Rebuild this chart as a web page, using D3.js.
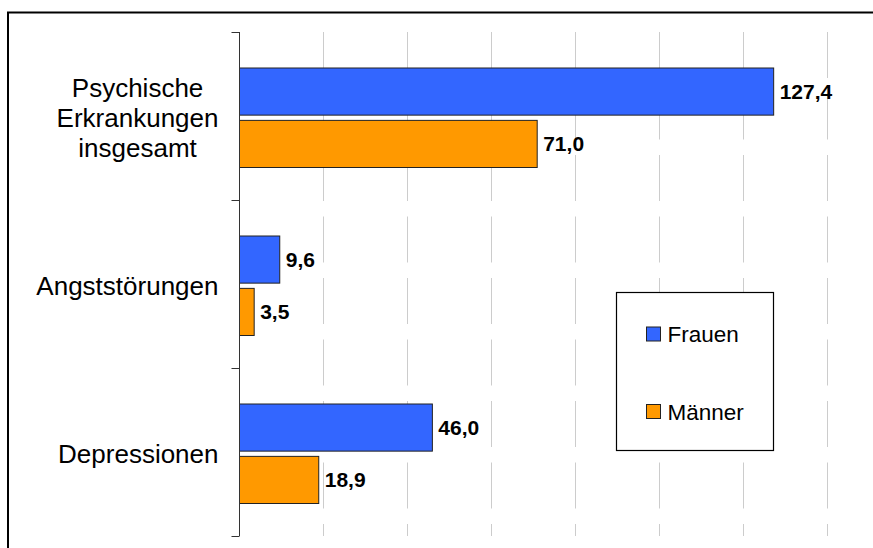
<!DOCTYPE html>
<html>
<head>
<meta charset="utf-8">
<script src="https://cdn.jsdelivr.net/npm/d3@7/dist/d3.min.js"></script>
<style>
  html, body { margin: 0; padding: 0; background: #fff; }
  svg { display: block; font-family: "Liberation Sans", Arial, sans-serif; }
</style>
</head>
<body>
<svg id="chart" width="873" height="548"></svg>
<script>
const categories = ["Psychische Erkrankungen insgesamt", "Angststörungen", "Depressionen"]
const seriesNames = ["Frauen", "Männer"]
const frauen = [127.4, 9.6, 46.0]
const maenner = [71.0, 3.5, 18.9]
const xTicks = [0, 20, 40, 60, 80, 100, 120, 140]

const colors = { "Frauen": "#3366FF", "Männer": "#FF9900" }
const width = 873
const height = 548
const plot = { left: 239.5, right: 826.5, top: 32, bottom: 536 }

const de = d3.formatLocale({ decimal: ",", thousands: ".", grouping: [3], currency: ["", " €"] })
const fmt = de.format(".1f")

const rows = categories.map((c, i) => ({
  name: c,
  values: [
    { series: "Frauen", value: frauen[i] },
    { series: "Männer", value: maenner[i] }
  ]
}))

const svg = d3.select("#chart")

svg.append("rect")
  .attr("width", width).attr("height", height)
  .attr("fill", "#fff")

// outer frame (right/bottom edges fall outside the picture)
svg.append("rect")
  .attr("x", 8).attr("y", 12.5)
  .attr("width", 900).attr("height", 600)
  .attr("fill", "none")
  .attr("stroke", "#000")
  .attr("stroke-width", 2)

const x = d3.scaleLinear()
  .domain([0, 140])
  .range([plot.left, plot.right])

const y0 = d3.scaleBand()
  .domain(categories)
  .range([plot.top, plot.bottom])

const y1 = d3.scaleBand()
  .domain(seriesNames)
  .range([36, 135.5])
  .paddingInner(0.1)

// gridlines
svg.append("g")
  .selectAll("line")
  .data(xTicks.slice(1))
  .join("line")
  .attr("x1", d => Math.round(x(d)) + 0.5)
  .attr("x2", d => Math.round(x(d)) + 0.5)
  .attr("y1", plot.top)
  .attr("y2", plot.bottom)
  .attr("stroke", "#cccccc")
  .attr("stroke-width", 1)
  .attr("stroke-dasharray", "46,15.5")

// bars
const groups = svg.append("g")
  .selectAll("g")
  .data(rows)
  .join("g")
  .attr("transform", d => `translate(0, ${y0(d.name)})`)

groups.selectAll("rect")
  .data(d => d.values)
  .join("rect")
  .attr("x", x(0))
  .attr("y", d => y1(d.series))
  .attr("width", d => x(d.value) - x(0))
  .attr("height", y1.bandwidth())
  .attr("fill", d => colors[d.series])
  .attr("stroke", "#222")
  .attr("stroke-width", 1)

groups.selectAll("text")
  .data(d => d.values)
  .join("text")
  .attr("x", d => x(d.value) + 6)
  .attr("y", d => y1(d.series) + y1.bandwidth() / 2)
  .attr("dy", "0.36em")
  .attr("font-size", 21)
  .attr("font-weight", "bold")
  .attr("fill", "#000")
  .text(d => fmt(d.value))

// category axis
const axisY = svg.append("g")
  .attr("transform", `translate(${plot.left}, 0)`)
  .call(d3.axisLeft(y0).tickSize(0).tickFormat(""))
axisY.select(".domain").remove()

axisY.append("line")
  .attr("x1", 0).attr("x2", 0)
  .attr("y1", plot.top).attr("y2", plot.bottom)
  .attr("stroke", "#333")

axisY.selectAll(".bound")
  .data(categories.map(c => y0(c)).concat([plot.bottom]))
  .join("line")
  .attr("class", "bound")
  .attr("x1", -8).attr("x2", 0)
  .attr("y1", d => Math.round(d) + 0.5)
  .attr("y2", d => Math.round(d) + 0.5)
  .attr("stroke", "#333")

// category labels, word-wrapped, block right edge at 218.5
const labelRight = 218.5
const lineH = 30
categories.forEach(c => {
  const lines = c.split(" ")
  const cy = y0(c) + y0.bandwidth() / 2 + 2
  const t = svg.append("text")
    .attr("font-size", 26)
    .attr("fill", "#000")
    .attr("text-anchor", "middle")
  lines.forEach((ln, i) => {
    t.append("tspan")
      .attr("y", cy + (i - (lines.length - 1) / 2) * lineH)
      .attr("dy", "0.36em")
      .text(ln)
  })
  let w = 0
  t.selectAll("tspan").each(function() { w = Math.max(w, this.getComputedTextLength()) })
  t.selectAll("tspan").attr("x", labelRight - w / 2)
})

// legend
const legend = svg.append("g")
legend.append("rect")
  .attr("x", 616.5).attr("y", 292.5)
  .attr("width", 157).attr("height", 158)
  .attr("fill", "#fff")
  .attr("stroke", "#000")
  .attr("stroke-width", 1.2)

const legendY = d3.scalePoint()
  .domain(seriesNames)
  .range([334, 411.5])

const items = legend.selectAll("g.item")
  .data(seriesNames)
  .join("g")
  .attr("class", "item")
  .attr("transform", d => `translate(646.5, ${legendY(d)})`)

items.append("rect")
  .attr("x", 0).attr("y", -7)
  .attr("width", 14).attr("height", 14)
  .attr("fill", d => colors[d])
  .attr("stroke", "#222")

items.append("text")
  .attr("x", 21)
  .attr("y", 0)
  .attr("dy", "0.36em")
  .attr("font-size", 22.5)
  .attr("fill", "#000")
  .text(d => d)
</script>
</body>
</html>
